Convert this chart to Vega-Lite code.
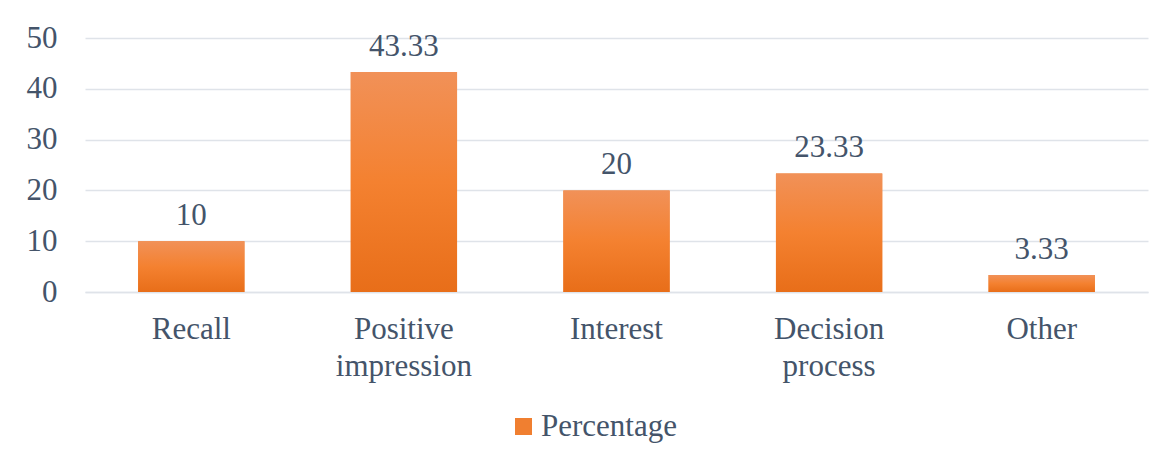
{
  "$schema": "https://vega.github.io/schema/vega-lite/v6.json",
  "autosize": {"type": "none"},
  "width": 1063,
  "height": 254,
  "padding": {"left": 85, "top": 38, "right": 21, "bottom": 174},
  "background": "white",
  "data": {"values": [
    {"category": "Recall", "value": 10, "label": "10", "series": "Percentage"},
    {"category": "Positive impression", "value": 43.33, "label": "43.33", "series": "Percentage"},
    {"category": "Interest", "value": 20, "label": "20", "series": "Percentage"},
    {"category": "Decision process", "value": 23.33, "label": "23.33", "series": "Percentage"},
    {"category": "Other", "value": 3.33, "label": "3.33", "series": "Percentage"}
  ]},
  "config": {
    "view": {"stroke": null},
    "font": "Liberation Serif",
    "axis": {"labelFont": "Liberation Serif", "labelFontSize": 31, "labelColor": "#44546A", "gridColor": "#DFE3E9", "gridWidth": 1.5, "domainColor": "#DFE3E9", "domainWidth": 1.5},
    "legend": {"labelFont": "Liberation Serif", "labelFontSize": 31, "labelColor": "#44546A"},
    "text": {"font": "Liberation Serif"}
  },
  "layer": [
    {
      "mark": {"type": "bar"},
      "encoding": {
        "x": {"field": "category", "type": "nominal", "sort": null,
              "scale": {"paddingInner": 0.5, "paddingOuter": 0.25},
              "axis": {"title": null, "labelAngle": 0, "ticks": false, "labelPadding": 22, "labelLineHeight": 37, "labelFont": "Liberation Serif",
                       "labelExpr": "datum.value == 'Positive impression' ? ['Positive', 'impression'] : datum.value == 'Decision process' ? ['Decision', 'process'] : datum.value", "grid": false}},
        "y": {"field": "value", "type": "quantitative", "scale": {"domain": [0, 50]},
              "axis": {"title": null, "values": [0, 10, 20, 30, 40, 50], "ticks": false, "domain": false, "labelPadding": 28, "labelFont": "Liberation Serif"}},
        "color": {"field": "series", "type": "nominal", "scale": {"range": ["#F07F30"]},
                  "legend": {"title": null, "orient": "none", "legendX": 423, "legendY": 373, "direction": "horizontal", "symbolType": "square", "symbolSize": 289, "symbolStrokeWidth": 0, "labelOffset": 2, "labelFont": "Liberation Serif"}}
      }
    },
    {
      "mark": {"type": "bar", "fill": {"gradient": "linear", "x1": 0, "y1": 0, "x2": 0, "y2": 1,
        "stops": [{"offset": 0, "color": "#F19158"}, {"offset": 0.5, "color": "#F48130"}, {"offset": 1, "color": "#E86E19"}]}},
      "encoding": {
        "x": {"field": "category", "type": "nominal", "sort": null},
        "y": {"field": "value", "type": "quantitative"}
      }
    },
    {
      "mark": {"type": "text", "baseline": "alphabetic", "dy": -16, "fontSize": 31, "color": "#44546A", "font": "Liberation Serif"},
      "encoding": {
        "x": {"field": "category", "type": "nominal", "sort": null},
        "y": {"field": "value", "type": "quantitative"},
        "text": {"field": "label"}
      }
    }
  ]
}
